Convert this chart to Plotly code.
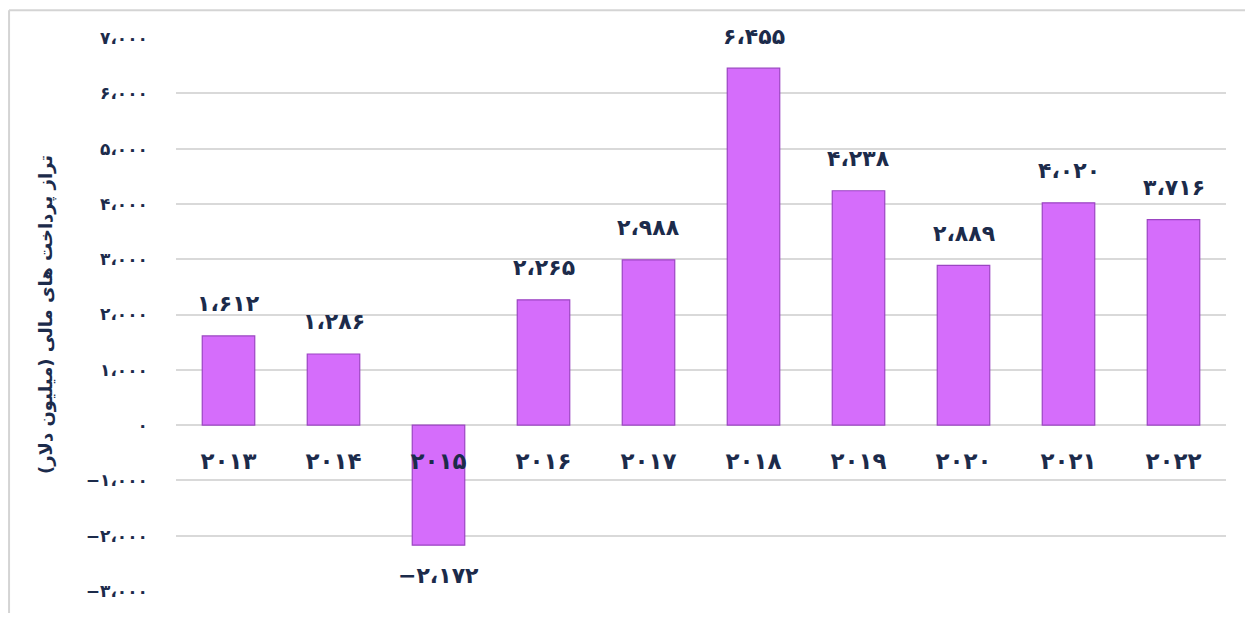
import plotly.graph_objects as go

years = [2013, 2014, 2015, 2016, 2017, 2018, 2019, 2020, 2021, 2022]
values = [1612, 1286, -2172, 2265, 2988, 6455, 4238, 2889, 4020, 3716]
y_ticks = [-3000, -2000, -1000, 0, 1000, 2000, 3000, 4000, 5000, 6000, 7000]
y_title = "تراز پرداخت های مالی (میلیون دلار)"

FA = str.maketrans("0123456789", "۰۱۲۳۴۵۶۷۸۹")


def fa_num(v):
    s = f"{abs(v):,}".replace(",", "،").translate(FA)
    return ("−" + s) if v < 0 else s


cats = [str(y).translate(FA) for y in years]
FONT = "DejaVu Sans"
TXT = "#1c2b4b"

fig = go.Figure()
fig.add_trace(go.Bar(
    x=cats, y=values, width=0.5,
    marker=dict(color="#d56dfb", line=dict(color="#9b45c2", width=1.2)),
    hoverinfo="skip",
))

for c, v in zip(cats, values):
    fig.add_annotation(
        x=c, y=v, text="<b>" + fa_num(v) + "</b>", showarrow=False,
        yshift=32 if v >= 0 else -30,
        font=dict(family=FONT, size=22, color=TXT),
    )

frame = dict(color="#d4d4d4", width=2)
fig.update_layout(
    width=1237, height=605,
    margin=dict(l=168, r=19, t=30, b=20),
    paper_bgcolor="white", plot_bgcolor="white",
    showlegend=False,
    font=dict(family=FONT, color=TXT),
    xaxis=dict(
        type="category", anchor="free", position=0.3,
        showline=False, showgrid=False, zeroline=False, ticks="",
        ticklabelstandoff=20,
        tickfont=dict(family=FONT, size=23, color=TXT),
        tickvals=cats, ticktext=["<b>" + c + "</b>" for c in cats],
    ),
    yaxis=dict(
        range=[-3000, 7000], tickvals=y_ticks,
        ticktext=["<b>" + fa_num(t) + "</b>" for t in y_ticks],
        tickfont=dict(family=FONT, size=17, color=TXT),
        ticklabelstandoff=27,
        showgrid=True, gridcolor="#d9d9d9", gridwidth=1.5,
        zeroline=True, zerolinecolor="#d9d9d9", zerolinewidth=1.5,
        showline=False,
        title=dict(text="<b>" + y_title + "</b>", standoff=28,
                   font=dict(family=FONT, size=18, color=TXT)),
    ),
    shapes=[
        dict(type="line", xref="paper", yref="paper",
             x0=-0.159, x1=-0.159, y0=-0.04, y1=1.05, line=frame, layer="above"),
        dict(type="line", xref="paper", yref="paper",
             x0=-0.159, x1=1.02, y0=1.05, y1=1.05, line=frame, layer="above"),
    ],
)

fig.write_html("out.html")
